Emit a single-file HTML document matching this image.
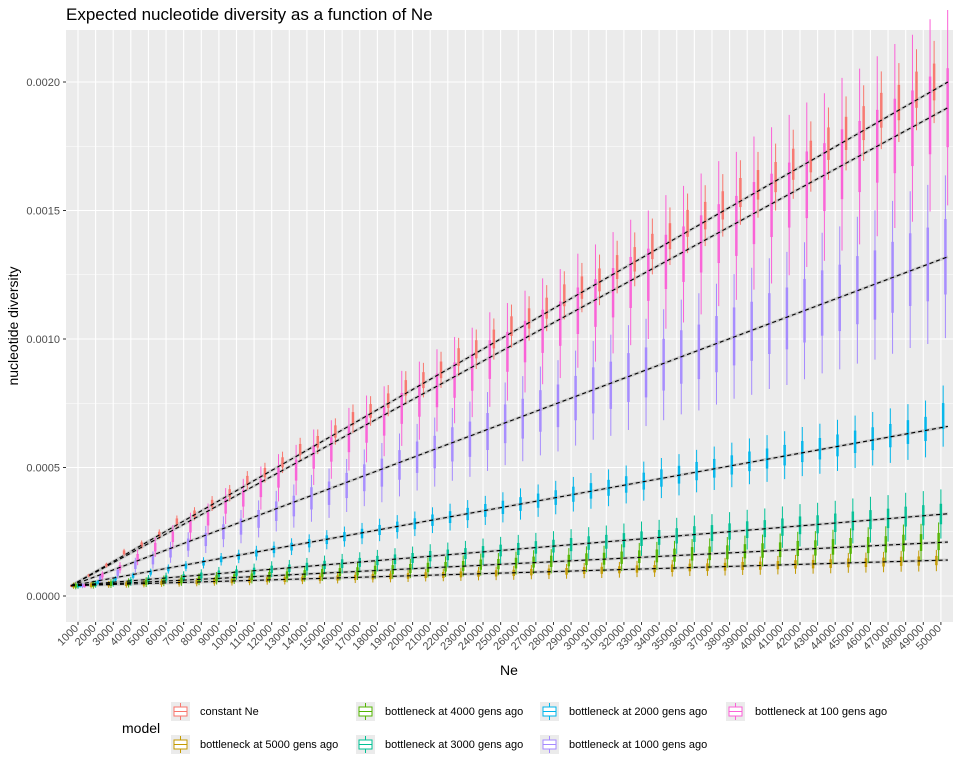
<!DOCTYPE html>
<html><head><meta charset="utf-8"><style>
body{margin:0;background:#fff;font-family:"Liberation Sans",sans-serif}
svg{display:block}
</style></head><body>
<svg id="chart" width="960" height="768" xmlns="http://www.w3.org/2000/svg" font-family="Liberation Sans, sans-serif">
<text x="66" y="20" font-size="17" fill="#000">Expected nucleotide diversity as a function of Ne</text>
<rect x="66" y="30" width="887" height="592" fill="#EBEBEB"/>
<g id="grid"></g><g id="bands"></g><g id="boxes"></g><g id="lines"></g><g id="axes"></g>
<text x="509" y="675" font-size="14" text-anchor="middle">Ne</text>
<text transform="translate(18,326) rotate(-90)" font-size="14" text-anchor="middle">nucleotide diversity</text>
<g id="legend"></g>
</svg>
<script>
const categories=[];for(let k=1;k<=50;k++)categories.push(k*1000);
const models=["constant Ne","bottleneck at 5000 gens ago","bottleneck at 4000 gens ago","bottleneck at 3000 gens ago","bottleneck at 2000 gens ago","bottleneck at 1000 gens ago","bottleneck at 100 gens ago"];
const colors=["#F8766D","#C49A00","#53B400","#00C094","#00B6EB","#A58AFF","#FB61D7"];
// medians in units of 1e-5
const medConstant=[4,8,12,17,20,24,29,32,36,40,45,48,52,57,60,64,69,72,76,81,84,88,93,96,100,105,108,112,117,120,123,128,131,136,140,145,148,152,157,160,163,168,171,176,180,184,189,192,197,200];
const med5000=[4,4.2,4.5,4.6,4.8,5.1,5.2,5.4,5.7,5.8,6,6.3,6.4,6.6,6.9,7,7.2,7.5,7.6,7.8,8.1,8.2,8.4,8.7,8.8,9,9.3,9.4,9.6,9.9,10,10.2,10.5,10.6,10.8,11.1,11.2,11.4,11.7,11.8,12,12.3,12.4,12.6,12.9,13,13.2,13.5,13.6,13.8];
const med4000=[4,4.4,4.8,5.1,5.4,5.9,6.1,6.5,6.9,7.2,7.5,8,8.2,8.6,9,9.3,9.6,10.1,10.3,10.7,11.1,11.4,11.7,12.2,12.4,12.8,13.2,13.5,13.8,14.3,14.5,14.9,15.3,15.6,15.9,16.4,16.6,17,17.4,17.7,18,18.5,18.7,19.1,19.5,19.8,20.1,20.6,20.8,21.2];
const med3000=[4,4.6,5.2,5.7,6.3,7,7.4,8,8.7,9.1,9.7,10.4,10.8,11.4,12.1,12.6,13.1,13.8,14.3,14.8,15.5,16,16.5,17.2,17.7,18.3,18.9,19.4,20,20.6,21.1,21.7,22.3,22.8,23.4,24.1,24.5,25.1,25.8,26.2,26.8,27.5,27.9,28.5,29.2,29.7,30.2,30.9,31.4,31.9];
const med2000=[4,5.3,6.6,7.8,9.1,10.5,11.6,12.9,14.3,15.4,16.7,18.1,19.2,20.5,21.9,23.1,24.3,25.7,26.9,28.1,29.5,30.7,31.9,33.3,34.5,35.8,37.1,38.3,39.6,40.9,42.1,43.4,44.7,45.9,47.2,48.6,49.7,51,52.4,53.5,54.8,56.2,57.3,58.6,60,61.2,62.4,63.8,65,70];
const med1000=[4,7,9,12,14,17,20,22,25,27,30,33,35,38,40,43,46,48,51,54,56,59,61,64,67,69,72,74,77,80,82,85,87,90,93,95,98,101,103,106,108,111,114,116,119,121,124,127,129,132];
const med100=[4,8,11,15,19,23,27,30,35,38,42,46,49,54,57,61,65,68,73,76,80,84,87,92,95,99,103,106,111,114,118,122,125,130,133,137,141,144,149,152,156,160,163,168,171,175,179,182,187,190];
const medians=[medConstant,med5000,med4000,med3000,med2000,med1000,med100];
const iqrFrac=[0.035,0.12,0.15,0.12,0.07,0.11,0.08];
const whiskFrac=[0.08,0.3,0.35,0.3,0.17,0.24,0.2];
const fitStart=[4,4,4,4,4,4,4];
const fitEnd=[200,14,21,32,66,132,190];
const yTicks=[0,0.0005,0.001,0.0015,0.002];
const yTickLabels=["0.0000","0.0005","0.0010","0.0015","0.0020"];

const NS="http://www.w3.org/2000/svg";
const x0=78,dx=17.61;
function xScale(i){return x0+i*dx;}
function yScale(v){return 596-v*257000;}
function el(t,a,p){const e=document.createElementNS(NS,t);for(const k in a)e.setAttribute(k,a[k]);document.getElementById(p).appendChild(e);return e;}
yTicks.forEach((v,i)=>{
  if(i<yTicks.length-1){const g=el('line',{x1:66,x2:953,y1:yScale(v+0.00025),y2:yScale(v+0.00025),stroke:'#fff','stroke-width':0.5},'grid');
  }
  const g2=el('line',{x1:66,x2:953,y1:yScale(v),y2:yScale(v),stroke:'#fff','stroke-width':1.1},'grid');
  
  const t=el('text',{x:60,y:yScale(v)+4,'font-size':11,fill:'#4d4d4d','text-anchor':'end'},'axes');t.textContent=yTickLabels[i];
  
  el('line',{x1:63,x2:66,y1:yScale(v),y2:yScale(v),stroke:'#333'},'axes');
});
categories.forEach((c,i)=>{
  const x=xScale(i);
  const g=el('line',{x1:x,x2:x,y1:30,y2:622,stroke:'#fff','stroke-width':1.1},'grid');
  
  el('line',{x1:x,x2:x,y1:622,y2:625,stroke:'#333'},'axes');
  const t=el('text',{transform:`translate(${x+1},${629}) rotate(-45)`,'font-size':11,fill:'#4d4d4d','text-anchor':'end'},'axes');
  t.textContent=c;
});
const bw=2.26;
models.forEach((m,j)=>{
  medians[j].forEach((mv,i)=>{
    const v=mv*1e-5,cx=xScale(i)+(j-3)*bw;
    const g=el('g',{},'boxes');
    
    const c=colors[j];
    const w=document.createElementNS(NS,'line');
    w.setAttribute('x1',cx);w.setAttribute('x2',cx);w.setAttribute('y1',yScale(v*(1+whiskFrac[j])));w.setAttribute('y2',yScale(v*(1-whiskFrac[j])));w.setAttribute('stroke',c);w.setAttribute('stroke-width',1);g.appendChild(w);
    const r=document.createElementNS(NS,'rect');
    const top=yScale(v*(1+iqrFrac[j])),bot=yScale(v*(1-iqrFrac[j]));
    r.setAttribute('x',cx-bw/2+0.3);r.setAttribute('width',bw-0.6);r.setAttribute('y',top);r.setAttribute('height',Math.max(bot-top,1));
    r.setAttribute('fill',c);r.setAttribute('fill-opacity',0.4);r.setAttribute('stroke',c);r.setAttribute('stroke-width',0.8);g.appendChild(r);
  });
});
models.forEach((m,j)=>{
  const xa=xScale(0)-7,xb=xScale(49)+7;
  const b=el('line',{x1:xa,x2:xb,y1:yScale(fitStart[j]*1e-5),y2:yScale(fitEnd[j]*1e-5),stroke:'#bdbdbd','stroke-width':3,'stroke-opacity':0.7},'bands');
  
  const l=el('line',{x1:xa,x2:xb,y1:yScale(fitStart[j]*1e-5),y2:yScale(fitEnd[j]*1e-5),stroke:'#000','stroke-width':1.1,'stroke-dasharray':'4 3'},'lines');
  
});
const lt=el('text',{x:122,y:733,'font-size':14},'legend');lt.textContent='model';

const pos=[[172,711],[172,744],[357,711],[357,744],[541,711],[541,744],[727,711]];
[0,1,2,3,4,5,6].forEach(j=>{
  const [lx,ly]=pos[j];
  const g=el('g',{},'legend');
  const bg=document.createElementNS(NS,'rect');bg.setAttribute('x',lx-1);bg.setAttribute('y',ly-9);bg.setAttribute('width',19);bg.setAttribute('height',19);bg.setAttribute('fill','#EBEBEB');g.appendChild(bg);
  const ln=document.createElementNS(NS,'line');ln.setAttribute('x1',lx+8.5);ln.setAttribute('x2',lx+8.5);ln.setAttribute('y1',ly-8);ln.setAttribute('y2',ly+9);ln.setAttribute('stroke',colors[j]);g.appendChild(ln);
  const bx=document.createElementNS(NS,'rect');bx.setAttribute('x',lx+2);bx.setAttribute('y',ly-4);bx.setAttribute('width',13);bx.setAttribute('height',9);bx.setAttribute('fill','#fff');bx.setAttribute('stroke',colors[j]);g.appendChild(bx);
  const md=document.createElementNS(NS,'line');md.setAttribute('x1',lx+2);md.setAttribute('x2',lx+15);md.setAttribute('y1',ly+0.5);md.setAttribute('y2',ly+0.5);md.setAttribute('stroke',colors[j]);g.appendChild(md);
  const t=document.createElementNS(NS,'text');t.setAttribute('x',lx+28);t.setAttribute('y',ly+4);t.setAttribute('font-size',11);t.textContent=models[j];g.appendChild(t);
});
</script>
</body></html>
